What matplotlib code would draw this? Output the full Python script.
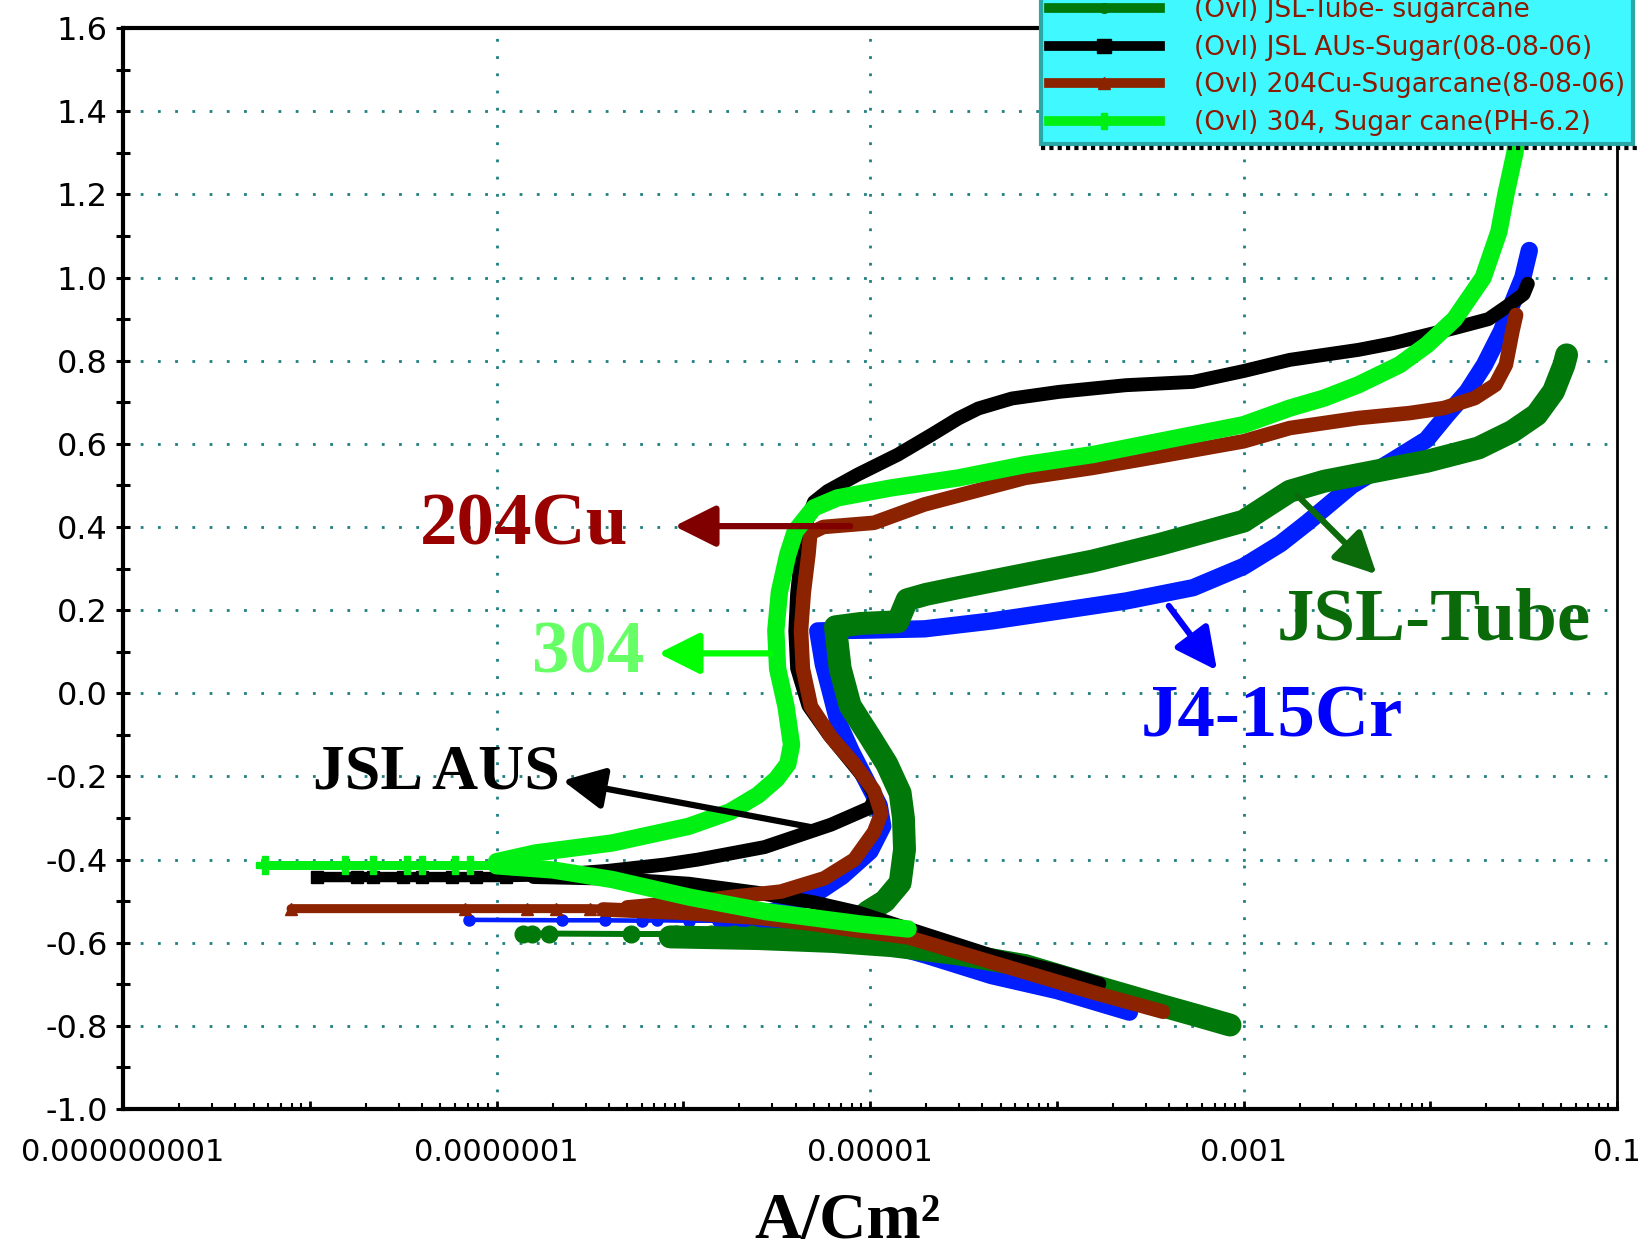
import matplotlib
matplotlib.use("Agg")
import matplotlib.pyplot as plt
from matplotlib.lines import Line2D
from matplotlib.ticker import LogLocator, NullFormatter

plt.rcParams["font.family"] = "DejaVu Sans"
plt.rcParams["axes.unicode_minus"] = False

# axis ticks / labels
x_decades = [1e-9, 1e-8, 1e-7, 1e-6, 1e-5, 1e-4, 1e-3, 1e-2, 1e-1]
x_labels = ["0.000000001", "", "0.0000001", "", "0.00001", "", "0.001", "", "0.1"]
x_grid = [1e-7, 1e-5, 1e-3]
y_ticks = [-1.0, -0.8, -0.6, -0.4, -0.2, 0.0, 0.2, 0.4, 0.6, 0.8, 1.0, 1.2, 1.4, 1.6]
y_labels = ["-1.0", "-0.8", "-0.6", "-0.4", "-0.2", "0.0", "0.2", "0.4", "0.6",
            "0.8", "1.0", "1.2", "1.4", "1.6"]
y_minor = [-0.9, -0.7, -0.5, -0.3, -0.1, 0.1, 0.3, 0.5, 0.7, 0.9, 1.1, 1.3, 1.5]
y_grid = [-0.8, -0.6, -0.4, -0.2, 0.0, 0.2, 0.4, 0.6, 0.8, 1.0, 1.2, 1.4]

# J4-15Cr (blue)
j4_cath_i = [2.45e-4, 1.0e-4, 4.47e-5, 2.0e-5, 1.0e-5, 5.0e-6, 2.5e-6, 1.6e-6]
j4_cath_e = [-0.767, -0.715, -0.679, -0.63, -0.592, -0.567, -0.552, -0.547]
j4_tail_i = [7.08e-8, 2.24e-7, 3.8e-7, 6.03e-7, 7.24e-7, 1.07e-6, 1.58e-6]
j4_tail_e = [-0.545, -0.546, -0.546, -0.547, -0.546, -0.547, -0.547]
j4_anod_i = [1.58e-6, 2.51e-6, 3.55e-6, 5.01e-6, 7.08e-6, 1.0e-5, 1.17e-5, 1.12e-5,
             9.55e-6, 7.94e-6, 6.76e-6, 6.17e-6, 5.62e-6, 5.25e-6, 1.0e-5, 1.96e-5,
             4.49e-5, 1.03e-4, 2.35e-4, 5.37e-4, 1.0e-3, 1.58e-3, 2.19e-3, 3.8e-3,
             6.31e-3, 9.55e-3, 1.23e-2, 1.58e-2, 1.95e-2, 2.40e-2, 2.82e-2, 3.13e-2, 3.39e-2]
j4_anod_e = [-0.545, -0.535, -0.515, -0.485, -0.44, -0.38, -0.32, -0.27,
             -0.21, -0.14, -0.07, 0.0, 0.07, 0.15, 0.152, 0.155,
             0.174, 0.198, 0.222, 0.254, 0.305, 0.36, 0.41, 0.50,
             0.56, 0.61, 0.67, 0.726, 0.79, 0.87, 0.95, 1.0, 1.065]

# JSL-Tube (dark green)
tube_cath_i = [8.47e-4, 5.62e-4, 3.56e-4, 1.55e-4, 6.79e-5, 2.97e-5, 1.30e-5, 6.31e-6,
               2.51e-6, 8.51e-7]
tube_cath_e = [-0.798, -0.775, -0.75, -0.703, -0.655, -0.627, -0.607, -0.597,
               -0.59, -0.586]
tube_tail_i = [1.38e-7, 1.55e-7, 1.91e-7, 5.25e-7, 9.12e-7, 1.41e-6, 1.86e-6, 2.34e-6]
tube_tail_e = [-0.578, -0.578, -0.578, -0.579, -0.579, -0.58, -0.58, -0.58]
tube_anod_i = [5.01e-6, 7.94e-6, 9.77e-6, 1.20e-5, 1.45e-5, 1.53e-5, 1.51e-5, 1.45e-5,
               1.23e-5, 1.0e-5, 7.83e-6, 6.92e-6, 6.53e-6, 8.91e-6, 1.41e-5, 1.58e-5,
               2.0e-5, 2.97e-5, 6.79e-5, 1.55e-4, 3.55e-4, 1.0e-3, 1.77e-3, 2.70e-3,
               5.08e-3, 9.6e-3, 1.81e-2, 2.75e-2, 3.71e-2, 4.57e-2, 5.2e-2, 5.37e-2]
tube_anod_e = [-0.578, -0.56, -0.525, -0.50, -0.456, -0.376, -0.30, -0.24,
               -0.17, -0.105, -0.03, 0.06, 0.16, 0.168, 0.172, 0.225,
               0.238, 0.254, 0.286, 0.318, 0.358, 0.414, 0.486, 0.51,
               0.534, 0.558, 0.59, 0.63, 0.67, 0.726, 0.79, 0.814]

# JSL AUS (black)
aus_cath_i = [1.69e-4, 1.0e-4, 4.49e-5, 1.96e-5, 8.59e-6, 5.01e-6, 2.51e-6, 1.07e-6,
              4.17e-7, 1.58e-7]
aus_cath_e = [-0.699, -0.668, -0.631, -0.579, -0.527, -0.503, -0.48, -0.458,
              -0.446, -0.442]
aus_tail_i = [1.10e-8, 1.78e-8, 2.19e-8, 3.16e-8, 3.98e-8, 5.75e-8, 7.76e-8, 1.12e-7,
              2.0e-7]
aus_tail_e = [-0.442, -0.442, -0.442, -0.442, -0.442, -0.442, -0.442, -0.442, -0.440]
aus_anod_i = [2.0e-7, 3.98e-7, 7.94e-7, 1.20e-6, 2.72e-6, 6.18e-6, 1.0e-5, 1.07e-5,
              9.55e-6, 7.76e-6, 6.03e-6, 4.68e-6, 4.07e-6, 3.98e-6, 4.07e-6, 4.27e-6,
              4.47e-6, 5.01e-6, 5.92e-6, 8.59e-6, 1.41e-5, 2.14e-5, 2.97e-5, 3.80e-5,
              5.75e-5, 1.03e-4, 2.34e-4, 5.37e-4, 1.0e-3, 1.77e-3, 2.70e-3, 4.12e-3,
              6.31e-3, 9.6e-3, 1.34e-2, 2.05e-2, 2.64e-2, 3.16e-2, 3.33e-2]
aus_anod_e = [-0.437, -0.427, -0.412, -0.40, -0.37, -0.316, -0.275, -0.25,
              -0.21, -0.16, -0.10, -0.03, 0.06, 0.15, 0.24, 0.33,
              0.40, 0.46, 0.486, 0.526, 0.574, 0.622, 0.661, 0.685,
              0.709, 0.725, 0.741, 0.749, 0.775, 0.802, 0.814, 0.826,
              0.842, 0.862, 0.878, 0.90, 0.934, 0.96, 0.985]

# 204Cu (brown)
cu_cath_i = [3.71e-4, 1.55e-4, 6.79e-5, 2.97e-5, 1.60e-5, 8.59e-6, 5.01e-6, 2.51e-6,
             1.0e-6, 3.72e-7]
cu_cath_e = [-0.766, -0.719, -0.671, -0.623, -0.587, -0.571, -0.555, -0.54,
             -0.528, -0.52]
cu_tail_i = [7.94e-9, 6.76e-8, 1.45e-7, 2.09e-7, 3.16e-7, 3.72e-7]
cu_tail_e = [-0.518, -0.518, -0.518, -0.518, -0.518, -0.519]
cu_anod_i = [5.01e-7, 1.20e-6, 1.80e-6, 3.33e-6, 5.69e-6, 8.24e-6, 1.05e-5, 1.15e-5,
             1.05e-5, 8.24e-6, 6.18e-6, 4.83e-6, 4.37e-6, 4.27e-6, 4.42e-6, 4.68e-6,
             4.79e-6, 5.62e-6, 1.05e-5, 1.95e-5, 3.63e-5, 6.76e-5, 1.55e-4, 3.55e-4,
             1.0e-3, 1.77e-3, 2.70e-3, 4.12e-3, 7.76e-3, 1.18e-2, 1.73e-2, 2.23e-2,
             2.54e-2, 2.75e-2, 2.88e-2]
cu_anod_e = [-0.515, -0.50, -0.49, -0.477, -0.445, -0.40, -0.334, -0.289,
             -0.234, -0.17, -0.105, -0.032, 0.059, 0.151, 0.243, 0.334,
             0.385, 0.40, 0.41, 0.454, 0.486, 0.518, 0.542, 0.57,
             0.606, 0.638, 0.65, 0.662, 0.674, 0.686, 0.71, 0.742,
             0.79, 0.87, 0.91]

# 304 (bright green)
s304_cath_i = [1.60e-5, 8.91e-6, 4.07e-6, 2.75e-6, 1.07e-6, 4.17e-7, 2.0e-7, 1.0e-7]
s304_cath_e = [-0.567, -0.555, -0.535, -0.525, -0.49, -0.448, -0.425, -0.415]
s304_tail_i = [5.75e-9, 1.55e-8, 2.19e-8, 3.31e-8, 3.98e-8, 6.03e-8, 7.24e-8, 1.23e-7,
               1.41e-7]
s304_tail_e = [-0.412, -0.412, -0.412, -0.412, -0.412, -0.412, -0.412, -0.412, -0.412]
s304_anod_i = [1.0e-7, 1.62e-7, 4.17e-7, 1.07e-6, 1.78e-6, 2.51e-6, 3.16e-6, 3.63e-6,
               3.80e-6, 3.55e-6, 3.20e-6, 3.13e-6, 3.27e-6, 3.63e-6, 3.98e-6, 5.01e-6,
               6.70e-6, 1.30e-5, 2.97e-5, 6.79e-5, 1.55e-4, 3.55e-4, 1.0e-3, 1.77e-3,
               2.70e-3, 4.12e-3, 6.84e-3, 9.6e-3, 1.35e-2, 1.92e-2, 2.33e-2, 2.54e-2,
               2.84e-2, 3.09e-2]
s304_anod_e = [-0.405, -0.384, -0.36, -0.32, -0.285, -0.245, -0.206, -0.17,
               -0.124, -0.032, 0.059, 0.151, 0.243, 0.334, 0.39, 0.446,
               0.47, 0.494, 0.518, 0.55, 0.574, 0.606, 0.646, 0.686,
               0.71, 0.742, 0.79, 0.838, 0.90, 1.0, 1.11, 1.2,
               1.30, 1.45]

legend_labels = ["(Ovl) JSL-Tube- sugarcane", "(Ovl) JSL AUs-Sugar(08-08-06)",
                 "(Ovl) 204Cu-Sugarcane(8-08-06)", "(Ovl) 304, Sugar cane(PH-6.2)"]

BLUE = "#001EFF"
DKGREEN = "#00780A"
BROWN = "#8C2300"
LTGREEN = "#00F014"


fig = plt.figure(figsize=(16.38, 12.53), dpi=100)
ax = fig.add_axes([0.0751, 0.1149, 0.9121, 0.8627])
ax.set_xscale("log")
ax.set_xlim(1e-9, 1e-1)
ax.set_ylim(-1.0, 1.6)

grid_kw = dict(color="#1F8080", lw=2.0, ls=(0, (1, 5.2)), zorder=0.5)
for y in y_grid:
    ax.axhline(y, **grid_kw)
for x in x_grid:
    ax.axvline(x, **grid_kw)


def draw(cath_i, cath_e, tail_i, tail_e, anod_i, anod_e, color, lw, tail_lw, marker, ms):
    ax.plot(tail_i, tail_e, color=color, lw=tail_lw, marker=marker, ms=ms,
            solid_capstyle="round")
    for xs, ys in ((cath_i, cath_e), (anod_i, anod_e)):
        ax.plot(xs, ys, color=color, lw=lw, solid_capstyle="round",
                solid_joinstyle="round")


draw(j4_cath_i, j4_cath_e, j4_tail_i, j4_tail_e, j4_anod_i, j4_anod_e,
     BLUE, 12.5, 3.3, "o", 8)
draw(tube_cath_i, tube_cath_e, tube_tail_i, tube_tail_e, tube_anod_i, tube_anod_e,
     DKGREEN, 16.5, 4.3, "o", 12)
draw(aus_cath_i, aus_cath_e, aus_tail_i, aus_tail_e, aus_anod_i, aus_anod_e,
     "black", 10, 7.5, "s", 9)
draw(cu_cath_i, cu_cath_e, cu_tail_i, cu_tail_e, cu_anod_i, cu_anod_e,
     BROWN, 10.5, 6.5, "^", 8)
draw(s304_cath_i, s304_cath_e, s304_tail_i, s304_tail_e, s304_anod_i, s304_anod_e,
     LTGREEN, 12.5, 6.5, "P", 13)

# labels and arrows
serif = dict(family="Liberation Serif", fontweight="bold", ha="center", va="baseline")
ax.text(1.41e-7, 0.357, "204Cu", color="#990000", fontsize=54, **serif)
ax.text(3.09e-7, 0.050, "304", color="#66FF66", fontsize=54, **serif)
ax.text(4.74e-8, -0.229, "JSL AUS", color="black", fontsize=46, **serif)
ax.text(1.05e-2, 0.130, "JSL-Tube", color="#0A6A0A", fontsize=54, **serif)
ax.text(1.42e-3, -0.105, "J4-15Cr", color="#0000FF", fontsize=54, **serif)

arrows = [((8.97e-7, 0.402), (7.83e-6, 0.402), "#800000"),
          ((7.36e-7, 0.096), (2.92e-6, 0.096), "#00FF00"),
          ((2.26e-7, -0.21), (5.25e-6, -0.325), "black"),
          ((5.16e-3, 0.286), (1.95e-3, 0.475), "#0B6B0B"),
          ((7.21e-4, 0.055), (3.98e-4, 0.21), "#0000FF")]
for tip, tail, c in arrows:
    ax.annotate("", xy=tip, xytext=tail,
                arrowprops=dict(arrowstyle="-|>,head_length=0.6,head_width=0.3",
                                color=c, lw=4.5, mutation_scale=42,
                                shrinkA=0, shrinkB=0))

ax.text(0.485, -0.1195, "A/Cm²", transform=ax.transAxes, ha="center", va="baseline",
        fontsize=47, fontweight="bold", family="Liberation Serif")

# ticks
ax.set_xticks(x_decades)
ax.set_xticklabels(x_labels)
ax.xaxis.set_minor_locator(LogLocator(base=10, subs=(2, 3, 4, 5, 6, 7, 8, 9), numticks=20))
ax.xaxis.set_minor_formatter(NullFormatter())
ax.tick_params(axis="x", which="major", direction="in", length=6, width=2,
               labelsize=22, pad=21)
ax.tick_params(axis="x", which="minor", direction="in", length=4, width=1.5)
ax.set_yticks(y_ticks)
ax.set_yticklabels(y_labels)
ax.set_yticks(y_minor, minor=True)
ax.tick_params(axis="y", which="both", direction="inout", length=10, width=2.2,
               labelsize=23, pad=6)
for side in ("left", "bottom", "top"):
    ax.spines[side].set_linewidth(3)
ax.spines["right"].set_linewidth(2)

# legend (top of box runs off the figure, as in the original)
handles = [Line2D([], [], color=DKGREEN, lw=7, marker="o", ms=7),
           Line2D([], [], color="black", lw=7, marker="s", ms=10),
           Line2D([], [], color=BROWN, lw=7, marker="^", ms=9),
           Line2D([], [], color=LTGREEN, lw=7, marker="P", ms=11)]
leg = fig.legend(handles, legend_labels, loc="lower left",
                 bbox_to_anchor=(1041 / 1638, 1 - 144 / 1253),
                 bbox_transform=fig.transFigure, borderaxespad=0, fontsize=19,
                 labelcolor="#8B1A00", fancybox=False, facecolor="#40F8FF",
                 edgecolor="#2AA8A8", framealpha=1, handlelength=4.2,
                 handletextpad=1.3, labelspacing=0.44, borderpad=0.3)
leg.get_frame().set_linewidth(3)
fig.add_artist(Line2D([1041 / 1638, 1.0], [1 - 148 / 1253, 1 - 148 / 1253],
                      transform=fig.transFigure, color="black", lw=3,
                      ls=(0, (1, 1)), zorder=6))

fig.savefig("out.png", dpi=100)
